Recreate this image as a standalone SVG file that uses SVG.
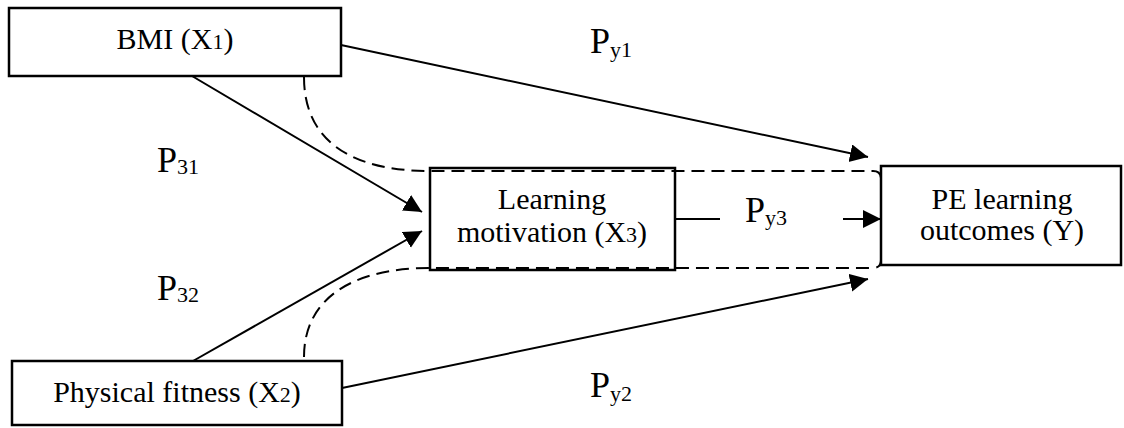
<svg xmlns="http://www.w3.org/2000/svg" width="1124" height="428" viewBox="0 0 1124 428">
<style>
.box{fill:#fff;stroke:#000;stroke-width:2.5}
.t{font-family:"Liberation Serif","Times New Roman",serif;font-size:30px;fill:#000;text-anchor:middle}
.p{font-family:"Liberation Serif","Times New Roman",serif;font-size:36px;fill:#000}
.s{font-size:22px}
.ln{stroke:#000;stroke-width:2;fill:none}
.ar{marker-end:url(#ah)}
.dash{stroke:#000;stroke-width:2;fill:none;stroke-dasharray:13 7}
</style>
<defs>
<marker id="ah" markerUnits="userSpaceOnUse" markerWidth="20" markerHeight="20" refX="18" refY="9" orient="auto">
<path d="M0,0 L18,9 L0,18 z" fill="#000"/>
</marker>
</defs>
<rect width="1124" height="428" fill="#fff"/>
<g id="connectors">
<line class="ln ar" x1="341" y1="45" x2="868" y2="157"/>
<line class="ln ar" x1="192" y1="76" x2="422" y2="212"/>
<line class="ln ar" x1="193" y1="361" x2="422" y2="231"/>
<line class="ln ar" x1="342" y1="388" x2="868" y2="279"/>
<line class="ln" x1="675" y1="219" x2="720" y2="219"/>
<line class="ln ar" x1="843" y1="219" x2="881" y2="219"/>
<path class="dash" d="M304,77 C304,140 350,171 430,171 L873,171 Q881,171 881,179"/>
<path class="dash" d="M304,357 C304,300 350,268 430,268 L873,268 Q881,268 881,260"/>
</g>
<g id="bmi">
<rect class="box" x="9" y="8" width="332" height="68"/>
<text class="t" x="175" y="49">BMI (X<tspan class="s">1</tspan>)</text>
</g>
<g id="fitness">
<rect class="box" x="12" y="361" width="330" height="64"/>
<text class="t" x="177" y="402">Physical fitness (X<tspan class="s">2</tspan>)</text>
</g>
<g id="motivation">
<rect class="box" x="430" y="168" width="245" height="102" style="fill:none"/>
<text class="t" x="552" y="209">Learning</text>
<text class="t" x="552" y="242">motivation (X<tspan class="s">3</tspan>)</text>
</g>
<g id="outcomes">
<rect class="box" x="881" y="166" width="240" height="99"/>
<text class="t" x="1002" y="209">PE learning</text>
<text class="t" x="1002" y="240">outcomes (Y)</text>
</g>
<g id="labels">
<text class="p" x="590" y="53">P<tspan class="s" dy="4">y1</tspan></text>
<text class="p" x="157" y="172">P<tspan class="s" dy="2">31</tspan></text>
<text class="p" x="157" y="300">P<tspan class="s" dy="2">32</tspan></text>
<text class="p" x="745" y="222">P<tspan class="s" dy="3">y3</tspan></text>
<text class="p" x="590" y="397">P<tspan class="s" dy="4">y2</tspan></text>
</g>
</svg>
